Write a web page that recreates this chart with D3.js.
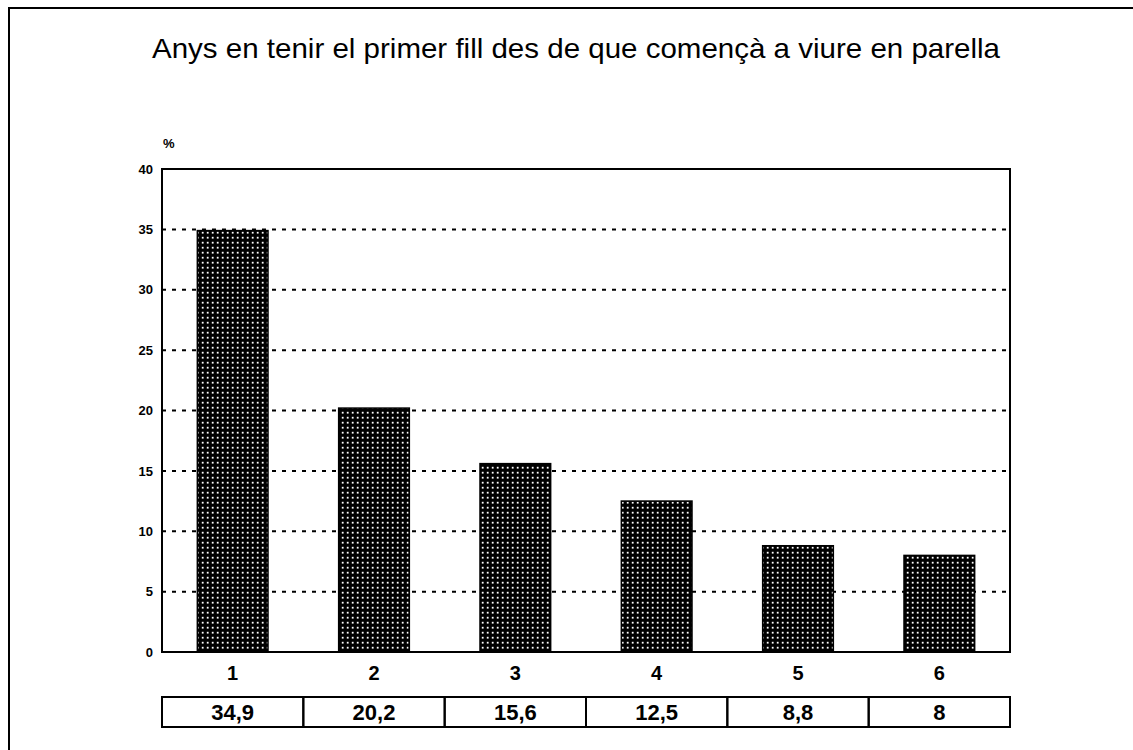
<html>
<head>
<script src="https://d3js.org/d3.v7.min.js"></script>
<style>
  body { margin: 0; background: #fff; }
  svg { display: block; font-family: "Liberation Sans", Arial, Helvetica, sans-serif; }
</style>
</head>
<body>
<svg id="chart" width="1133" height="750"></svg>
<script>
// data
const title = "Anys en tenir el primer fill des de que començà a viure en parella";
const categories = ["1", "2", "3", "4", "5", "6"];
const values = [34.9, 20.2, 15.6, 12.5, 8.8, 8];
const tableLabels = ["34,9", "20,2", "15,6", "12,5", "8,8", "8"];
const yTicks = [0, 5, 10, 15, 20, 25, 30, 35, 40];

const svg = d3.select('#chart');

// hatched fill like the printed bars
const pat = svg.append('defs').append('pattern')
  .attr('id', 'grid').attr('patternUnits', 'userSpaceOnUse')
  .attr('width', 5).attr('height', 5);
pat.append('rect').attr('width', 5).attr('height', 5).attr('fill', '#000');
pat.append('rect').attr('x', 1.8).attr('y', 1.8).attr('width', 1.8).attr('height', 1.8).attr('fill', '#fff');

// outer frame (only top and left edges show in the scan)
svg.append('path').attr('d', 'M9,760 V8 H1140')
  .attr('fill', 'none').attr('stroke', '#000').attr('stroke-width', 2);

svg.append('text')
  .attr('x', 152).attr('y', 58)
  .attr('textLength', 848).attr('lengthAdjust', 'spacingAndGlyphs')
  .style('font-size', '28px')
  .text(title);

const m = {left: 162, right: 1010, top: 169, bottom: 652};

const x = d3.scaleBand().domain(categories).range([m.left, m.right])
  .paddingInner(0.5).paddingOuter(0.25);
const y = d3.scaleLinear().domain([0, 40]).range([m.bottom, m.top]);

// dotted grid
svg.append('g').selectAll('line').data(yTicks.filter(d => d > 0 && d < 40)).enter().append('line')
  .attr('x1', m.left).attr('x2', m.right)
  .attr('y1', d => y(d)).attr('y2', d => y(d))
  .attr('stroke', '#000').attr('stroke-width', 2)
  .attr('stroke-dasharray', '4,6');

// bars
svg.append('g').selectAll('rect').data(values).enter().append('rect')
  .attr('x', (d, i) => x(categories[i]))
  .attr('width', x.bandwidth())
  .attr('y', d => y(d))
  .attr('height', d => y(0) - y(d))
  .attr('fill', 'url(#grid)')
  .attr('stroke', '#000').attr('stroke-width', 1.5);

// plot frame
svg.append('rect')
  .attr('x', m.left).attr('y', m.top)
  .attr('width', m.right - m.left).attr('height', m.bottom - m.top)
  .attr('fill', 'none').attr('stroke', '#000').attr('stroke-width', 2);

// y axis labels
const ya = svg.append('g').attr('transform', 'translate(' + m.left + ',0)')
  .call(d3.axisLeft(y).tickValues(yTicks).tickSize(0).tickPadding(9));
ya.select('.domain').remove();
ya.selectAll('text')
  .style('font-size', '13px').style('font-weight', 'bold')
  .style('font-family', '"Liberation Sans Narrow", "Liberation Sans", Arial, sans-serif');

svg.append('text').attr('x', 163).attr('y', 148)
  .style('font-size', '13px').style('font-weight', 'bold')
  .text('%');

// x axis labels
const xa = svg.append('g').attr('transform', 'translate(0,' + m.bottom + ')')
  .call(d3.axisBottom(x).tickSize(0).tickPadding(14));
xa.select('.domain').remove();
xa.selectAll('text')
  .style('font-size', '20px').style('font-weight', 'bold')
  .style('font-family', '"Liberation Sans", Arial, sans-serif');

// value table under the chart
const step = x.step();
const off = (step - x.bandwidth()) / 2;
const tTop = 697, tH = 30;
const cells = svg.append('g').selectAll('g').data(tableLabels).enter().append('g');
cells.append('rect')
  .attr('x', (d, i) => x(categories[i]) - off)
  .attr('y', tTop).attr('width', step).attr('height', tH)
  .attr('fill', 'none').attr('stroke', '#000').attr('stroke-width', 2);
cells.append('text')
  .attr('x', (d, i) => x(categories[i]) + x.bandwidth() / 2)
  .attr('y', tTop + 23)
  .attr('text-anchor', 'middle')
  .style('font-size', '22px').style('font-weight', 'bold')
  .text(d => d);
</script>
</body>
</html>
